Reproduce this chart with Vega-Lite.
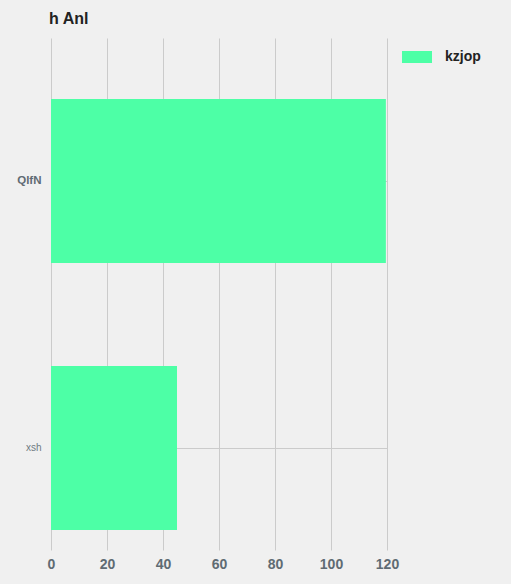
{
  "$schema": "https://vega.github.io/schema/vega-lite/v6.json",
  "width": 336,
  "height": 512,
  "autosize": {"type": "none"},
  "padding": {"left": 51, "top": 38, "right": 124, "bottom": 34},
  "background": "#f0f0f0",
  "config": {
    "view": {"stroke": null},
    "font": "Liberation Sans"
  },
  "title": {
    "text": "h Anl",
    "anchor": "start",
    "frame": "group",
    "dx": -2,
    "offset": 11,
    "fontSize": 16,
    "fontWeight": "bold",
    "color": "#222222",
    "font": "Liberation Sans"
  },
  "data": {
    "values": [
      {"category": "QlfN", "value": 119.6, "series": "kzjop"},
      {"category": "xsh", "value": 45, "series": "kzjop"}
    ]
  },
  "mark": {"type": "bar", "opacity": 1},
  "encoding": {
    "y": {
      "field": "category",
      "type": "nominal",
      "sort": ["QlfN", "xsh"],
      "scale": {"paddingInner": 0.386, "paddingOuter": 0.152, "align": 0.753},
      "axis": {
        "title": null,
        "domain": false,
        "ticks": false,
        "grid": true,
        "gridColor": "#cbcbcb",
        "gridWidth": 1,
        "labelPadding": 10,
        "labelFontSize": {"condition": {"test": "datum.value == 'QlfN'", "value": 11.5}, "value": 10},
        "labelFontWeight": {"condition": {"test": "datum.value == 'QlfN'", "value": "bold"}, "value": "normal"},
        "labelColor": {"condition": {"test": "datum.value == 'QlfN'", "value": "#5f6b73"}, "value": "#6f7a82"}
      }
    },
    "x": {
      "field": "value",
      "type": "quantitative",
      "scale": {"domain": [0, 120], "nice": false},
      "axis": {
        "title": null,
        "domain": false,
        "ticks": false,
        "values": [0, 20, 40, 60, 80, 100, 120],
        "grid": true,
        "gridColor": "#cbcbcb",
        "gridWidth": 1,
        "labelFlush": false,
        "labelPadding": 7,
        "labelFontSize": 14,
        "labelFontWeight": "bold",
        "labelColor": "#5f6b73"
      }
    },
    "color": {
      "field": "series",
      "type": "nominal",
      "scale": {"range": ["#4dffa6"]},
      "legend": {
        "title": null,
        "orient": "none",
        "legendX": 354,
        "legendY": 7,
        "padding": 0,
        "symbolType": "M-1.25,-0.5H1.25V0.5H-1.25Z",
        "symbolSize": 576,
        "symbolStrokeWidth": 0,
        "symbolOpacity": 1,
        "labelOffset": 16,
        "labelFontSize": 14,
        "labelFontWeight": "bold",
        "labelColor": "#222222",
        "labelFont": "Liberation Sans"
      }
    }
  }
}
